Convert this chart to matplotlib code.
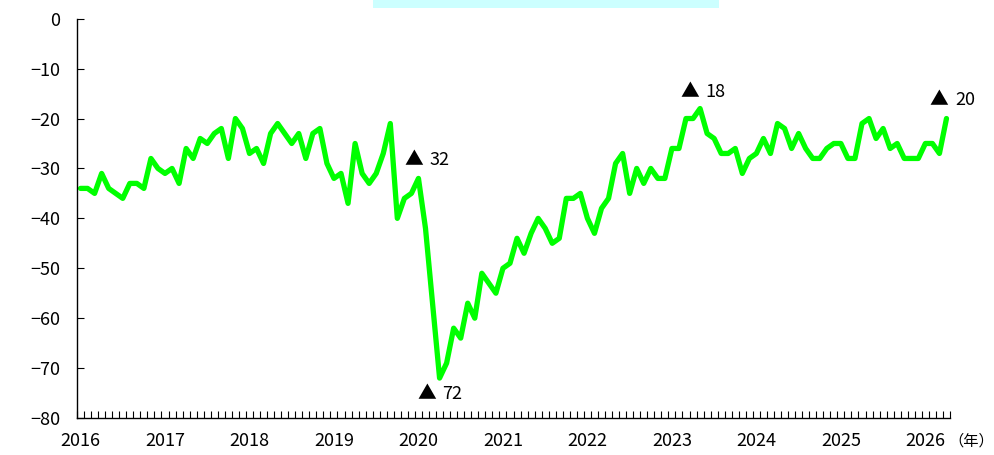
import matplotlib.pyplot as plt
from matplotlib.patches import Rectangle

plt.rcParams['font.family'] = ['Noto Sans CJK JP', 'DejaVu Sans']

# monthly values, Jan 2016 .. Apr 2026
values = [
    -34, -34, -35, -31, -34, -35, -36, -33, -33, -34, -28, -30,  # 2016
    -31, -30, -33, -26, -28, -24, -25, -23, -22, -28, -20, -22,  # 2017
    -27, -26, -29, -23, -21, -23, -25, -23, -28, -23, -22, -29,  # 2018
    -32, -31, -37, -25, -31, -33, -31, -27, -21, -40, -36, -35,  # 2019
    -32, -42, -57, -72, -69, -62, -64, -57, -60, -51, -53, -55,  # 2020
    -50, -49, -44, -47, -43, -40, -42, -45, -44, -36, -36, -35,  # 2021
    -40, -43, -38, -36, -29, -27, -35, -30, -33, -30, -32, -32,  # 2022
    -26, -26, -20, -20, -18, -23, -24, -27, -27, -26, -31, -28,  # 2023
    -27, -24, -27, -21, -22, -26, -23, -26, -28, -28, -26, -25,  # 2024
    -25, -28, -28, -21, -20, -24, -22, -26, -25, -28, -28, -28,  # 2025
    -25, -25, -27, -20,                                          # 2026
]
years = [str(y) for y in range(2016, 2027)]
yticks = [0, -10, -20, -30, -40, -50, -60, -70, -80]

# callouts: (month index, y position, value label)
callouts = [
    (46.0, -28.3, "32"),
    (47.8, -75.2, "72"),
    (85.2, -14.6, "18"),
    (120.6, -16.2, "20"),
]

fs = 13

fig = plt.figure(figsize=(9.94, 4.55), dpi=100)
ax = fig.add_axes([77 / 994, 37 / 455, 873 / 994, 399.3 / 455])

x = list(range(len(values)))
ax.plot(x, values, color="#00ff00", lw=3.8, solid_joinstyle="round", solid_capstyle="round", clip_on=False)

ax.set_xlim(-0.5, len(values) - 0.5)
ax.set_ylim(-80, 0)

ax.set_yticks(yticks)
ax.set_yticklabels([f"\u2212{-v}" if v else "0" for v in yticks])
ax.set_xticks(range(0, len(values), 12))
ax.set_xticklabels(years)
ax.set_xticks([k - 0.5 for k in range(len(values) + 1)], minor=True)

ax.tick_params(axis="x", which="major", length=0, pad=10, labelsize=fs)
ax.tick_params(axis="x", which="minor", direction="in", length=5, width=0.8)
ax.tick_params(axis="y", direction="in", length=5, width=0.8, pad=12, labelsize=fs)

for s in ["top", "right"]:
    ax.spines[s].set_visible(False)
for s in ["left", "bottom"]:
    ax.spines[s].set_linewidth(1.0)

for cx, cy, lab in callouts:
    ax.text(cx, cy, "\u25b2", ha="left", va="center", fontsize=13.5)
    ax.text(cx + 3.6, cy, lab, ha="left", va="center", fontsize=fs)

fig.text(994 / 994, 1 - 441 / 455, "（年）", ha="right", va="center", fontsize=11)

fig.patches.append(Rectangle((373 / 994, 1 - 8 / 455), 346 / 994, 8 / 455,
                             transform=fig.transFigure, facecolor="#ccffff", edgecolor="none"))

fig.savefig("out.png", dpi=100)
